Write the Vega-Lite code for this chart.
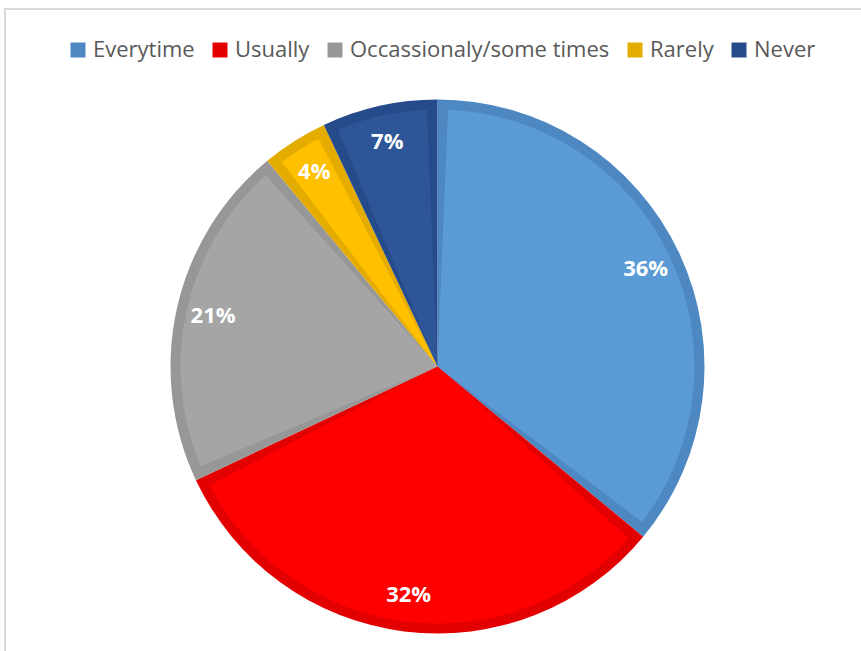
{
  "$schema": "https://vega.github.io/schema/vega-lite/v6.json",
  "width": 861,
  "height": 651,
  "autosize": {"type": "fit", "contains": "padding"},
  "padding": {"left": 5, "top": 9, "right": -9, "bottom": -73},
  "background": "white",
  "view": {"stroke": "#D9D9D9", "strokeWidth": 2},
  "config": {"view": {"stroke": "#D9D9D9", "strokeWidth": 2}},
  "data": {
    "values": [
      {"response": "Everytime", "pct": 0.36, "order": 1},
      {"response": "Usually", "pct": 0.32, "order": 2},
      {"response": "Occassionaly/some times", "pct": 0.21, "order": 3},
      {"response": "Rarely", "pct": 0.04, "order": 4},
      {"response": "Never", "pct": 0.07, "order": 5}
    ]
  },
  "encoding": {
    "theta": {"field": "pct", "type": "quantitative", "stack": true},
    "order": {"field": "order", "type": "quantitative"}
  },
  "layer": [
    {
      "mark": {"type": "arc", "outerRadius": 267},
      "encoding": {
        "color": {
          "field": "response",
          "type": "nominal",
          "scale": {
            "domain": ["Everytime", "Usually", "Occassionaly/some times", "Rarely", "Never"],
            "range": ["#4E88C2", "#E30000", "#979797", "#E5AC00", "#264B8A"]
          },
          "legend": {
            "orient": "none",
            "legendX": 62,
            "legendY": 30,
            "direction": "horizontal",
            "title": null,
            "symbolType": "square",
            "symbolSize": 225,
            "symbolStrokeWidth": 0,
            "labelFont": "Open Sans",
            "labelFontSize": 22,
            "labelColor": "#595959",
            "labelOffset": 4,
            "labelLimit": 500,
            "columnPadding": 14,
            "padding": 0
          }
        }
      }
    },
    {
      "mark": {"type": "arc", "outerRadius": 257, "padAngle": 0.082},
      "encoding": {
        "fill": {
          "field": "response",
          "type": "nominal",
          "scale": {
            "domain": ["Everytime", "Usually", "Occassionaly/some times", "Rarely", "Never"],
            "range": ["#5B9BD5", "#FF0000", "#A5A5A5", "#FFC000", "#2E5597"]
          },
          "legend": null
        }
      }
    },
    {
      "mark": {"type": "text", "radius": 230, "font": "Open Sans", "fontSize": 22, "fontWeight": "bold", "color": "white"},
      "encoding": {
        "text": {"field": "pct", "type": "quantitative", "format": ".0%"}
      }
    }
  ]
}
